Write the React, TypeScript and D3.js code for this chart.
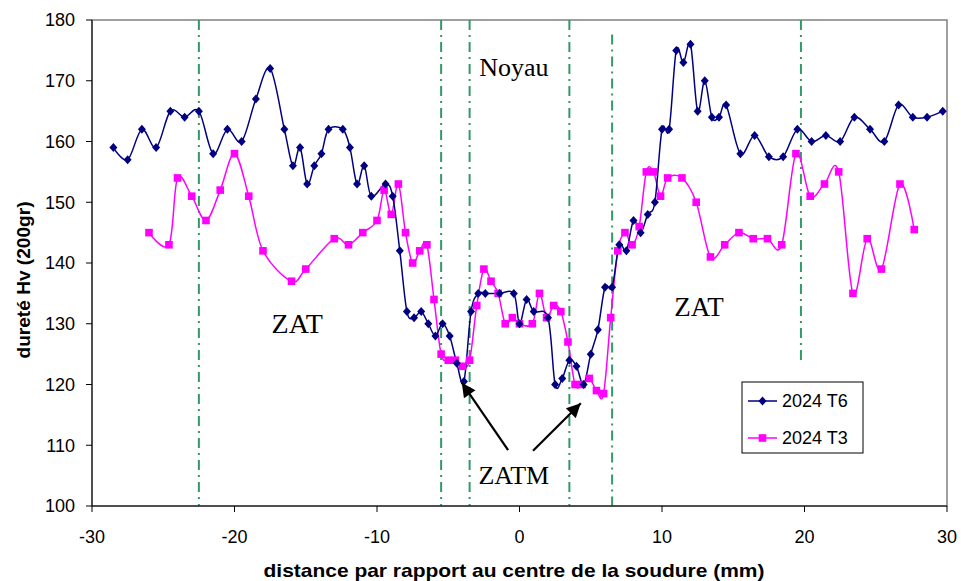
import React from "react";
import * as d3 from "d3";

const t6X = [-28.5,-27.5,-26.5,-25.5,-24.5,-23.5,-22.5,-21.5,-20.5,-19.5,-18.5,-17.5,-16.5,-15.9,-15.4,-14.9,-14.4,-13.9,-13.4,-12.4,-11.9,-11.4,-10.9,-10.4,-9.4,-8.9,-8.4,-7.9,-7.4,-6.9,-6.4,-5.9,-5.4,-4.9,-4.4,-3.9,-3.4,-2.9,-2.4,-1.4,-0.4,0.0,0.5,1.0,2.0,2.5,3.0,3.5,4.0,4.5,5.0,5.5,6.0,6.5,7.0,7.5,8.0,8.5,9.0,9.5,10.0,10.5,11.0,11.5,12.0,12.5,13.0,13.5,14.0,14.5,15.5,16.5,17.5,18.5,19.5,20.5,21.5,22.5,23.5,24.6,25.6,26.6,27.6,28.6,29.7];
const t6Y = [159,157,162,159,165,164,165,158,162,160,167,172,162,156,159,153,156,158,162,162,159,153,156,151,153,151,142,132,131,132,130,128,130,128,123.5,120.5,132,135,135,135,135,130,134,132,131,120,121,124,123,120,125,129,136,136,143,142,147,145,148,150,162,162,175,173,176,165,170,164,164,166,158,161,157.5,157.5,162,160,161,160,164,162,160,166,164,164,165];

const t3X = [-26.0,-24.6,-24.0,-23.0,-22.0,-21.0,-20.0,-19.0,-18.0,-16.0,-15.0,-13.0,-12.0,-11.0,-10.0,-9.5,-9.0,-8.5,-8.0,-7.5,-7.0,-6.5,-6.0,-5.5,-5.0,-4.5,-4.0,-3.5,-3.0,-2.5,-2.0,-1.5,-1.0,-0.5,0.0,0.9,1.4,1.9,2.4,2.9,3.4,3.9,4.4,4.9,5.4,5.9,6.4,6.9,7.4,7.9,8.4,8.9,9.4,9.9,10.4,11.4,12.4,13.4,14.4,15.4,16.4,17.4,18.4,19.4,20.4,21.4,22.4,23.4,24.4,25.4,26.7,27.7];
const t3Y = [145,143,154,151,147,152,158,151,142,137,139,144,143,145,147,152,148,153,145,140,142,143,134,125,124,124,123,124,133,139,137,135,130,131,130,130,135,131,133,132,127,120,120,121,119,118.5,131,142,145,143,146,155,155,151,154,154,150,141,143,145,144,144,143,158,151,153,155,135,144,139,153,145.5];

const xTicks = [-30,-20,-10,0,10,20,30];
const yTicks = [100,110,120,130,140,150,160,170,180];

// zone boundary lines: x position, top value, bottom value
const zoneX = [-22.5,-5.5,-3.5,3.5,6.5,19.75];
const zoneTop = [180,180,180,180,177.6,180];
const zoneBottom = [100,100,100,100,100,123.7];

// annotations
const labelText = ["ZAT","ZAT","Noyau","ZATM"];
const labelX = [-15.6,12.6,-0.4,-0.4];
const labelY = [128.5,131.3,170.8,103.6];
const labelSize = [28,27,26,26];

const arrowFromX = [-0.8,0.95];
const arrowFromY = [109.2,109.1];
const arrowToX = [-4.05,4.3];
const arrowToY = [120.3,116.9];

const seriesNames = ["2024 T6","2024 T3"];
const seriesColors = ["#000080","#FF00FF"];

const W = 961, H = 581;
const M = { left: 92, right: 947, top: 20, bottom: 506 };

export default function App() {
  const x = d3.scaleLinear().domain([-30, 30]).range([M.left, M.right]);
  const y = d3.scaleLinear().domain([100, 180]).range([M.bottom, M.top]);
  const line = d3.line<[number, number]>()
    .x(d => x(d[0])).y(d => y(d[1]))
    .curve(d3.curveCardinal.tension(0));
  const t6 = t6X.map((v, i) => [v, t6Y[i]] as [number, number]);
  const t3 = t3X.map((v, i) => [v, t3Y[i]] as [number, number]);
  const diamond = (cx: number, cy: number) =>
    `M${cx},${cy - 4.5}L${cx + 4},${cy}L${cx},${cy + 4.5}L${cx - 4},${cy}Z`;
  const font = "Arial, 'Liberation Sans', sans-serif";
  const serif = "'Times New Roman', 'Liberation Serif', serif";

  return (
    <svg width={W} height={H} style={{ position: "absolute", left: 0, top: 0, background: "#fff" }}>
      <defs>
        <marker id="ah" viewBox="0 0 10 10" refX="10" refY="5" markerWidth="19" markerHeight="14" markerUnits="userSpaceOnUse" orient="auto">
          <path d="M0,0L10,5L0,10Z" fill="#000" />
        </marker>
      </defs>
      <rect x={M.left} y={M.top} width={M.right - M.left} height={M.bottom - M.top} fill="none" stroke="#808080" strokeWidth={1.5} />
      {zoneX.map((v, i) => (
        <line key={"z" + i} x1={x(v)} x2={x(v)} y1={y(zoneTop[i])} y2={y(zoneBottom[i])}
          stroke="#339966" strokeWidth={2} strokeDasharray="10,5,2,5" />
      ))}
      <path d={line(t3) || ""} fill="none" stroke={seriesColors[1]} strokeWidth={1.5} />
      <path d={line(t6) || ""} fill="none" stroke={seriesColors[0]} strokeWidth={1.5} />
      {t3.map((p, i) => (
        <rect key={"s" + i} x={x(p[0]) - 3.8} y={y(p[1]) - 3.8} width={7.6} height={7.6} fill={seriesColors[1]} />
      ))}
      {t6.map((p, i) => (
        <path key={"d" + i} d={diamond(x(p[0]), y(p[1]))} fill={seriesColors[0]} />
      ))}
      {/* axes */}
      <line x1={M.left} x2={M.left} y1={M.top} y2={M.bottom} stroke="#000" strokeWidth={1} />
      <line x1={M.left} x2={M.right} y1={M.bottom} y2={M.bottom} stroke="#000" strokeWidth={1} />
      {yTicks.map(t => (
        <g key={"yt" + t}>
          <line x1={M.left - 6} x2={M.left} y1={y(t)} y2={y(t)} stroke="#000" />
          <text x={M.left - 17} y={y(t)} dy="0.35em" textAnchor="end" fontFamily={font} fontSize={18}>{t}</text>
        </g>
      ))}
      {xTicks.map(t => (
        <g key={"xt" + t}>
          <line x1={x(t)} x2={x(t)} y1={M.bottom} y2={M.bottom + 6} stroke="#000" />
          <text x={x(t)} y={M.bottom + 37} textAnchor="middle" fontFamily={font} fontSize={18}>{t}</text>
        </g>
      ))}
      <text x={514} y={577} textAnchor="middle" fontFamily={font} fontWeight="bold" fontSize={19} textLength={501} lengthAdjust="spacingAndGlyphs">
        distance par rapport au centre de la soudure (mm)
      </text>
      <text transform="translate(30,280) rotate(-90)" textAnchor="middle" fontFamily={font} fontWeight="bold" fontSize={18} textLength={157} lengthAdjust="spacingAndGlyphs">
        dureté Hv (200gr)
      </text>
      {labelText.map((s, i) => (
        <text key={"l" + i} x={x(labelX[i])} y={y(labelY[i])} textAnchor="middle" fontFamily={serif} fontSize={labelSize[i]}>{s}</text>
      ))}
      {arrowFromX.map((v, i) => (
        <line key={"a" + i} x1={x(v)} y1={y(arrowFromY[i])} x2={x(arrowToX[i])} y2={y(arrowToY[i])}
          stroke="#000" strokeWidth={2.2} markerEnd="url(#ah)" />
      ))}
      {/* legend */}
      <rect x={742} y={382} width={121} height={71} fill="#fff" stroke="#000" strokeWidth={1} />
      {seriesNames.map((n, i) => {
        const ly = 401 + i * 37;
        return (
          <g key={"lg" + i}>
            <line x1={748} x2={777} y1={ly} y2={ly} stroke={seriesColors[i]} strokeWidth={1.5} />
            {i === 0
              ? <path d={diamond(762.5, ly)} fill={seriesColors[0]} />
              : <rect x={758.7} y={ly - 3.8} width={7.6} height={7.6} fill={seriesColors[1]} />}
            <text x={782} y={ly} dy="0.35em" fontFamily={font} fontSize={18}>{n}</text>
          </g>
        );
      })}
    </svg>
  );
}
